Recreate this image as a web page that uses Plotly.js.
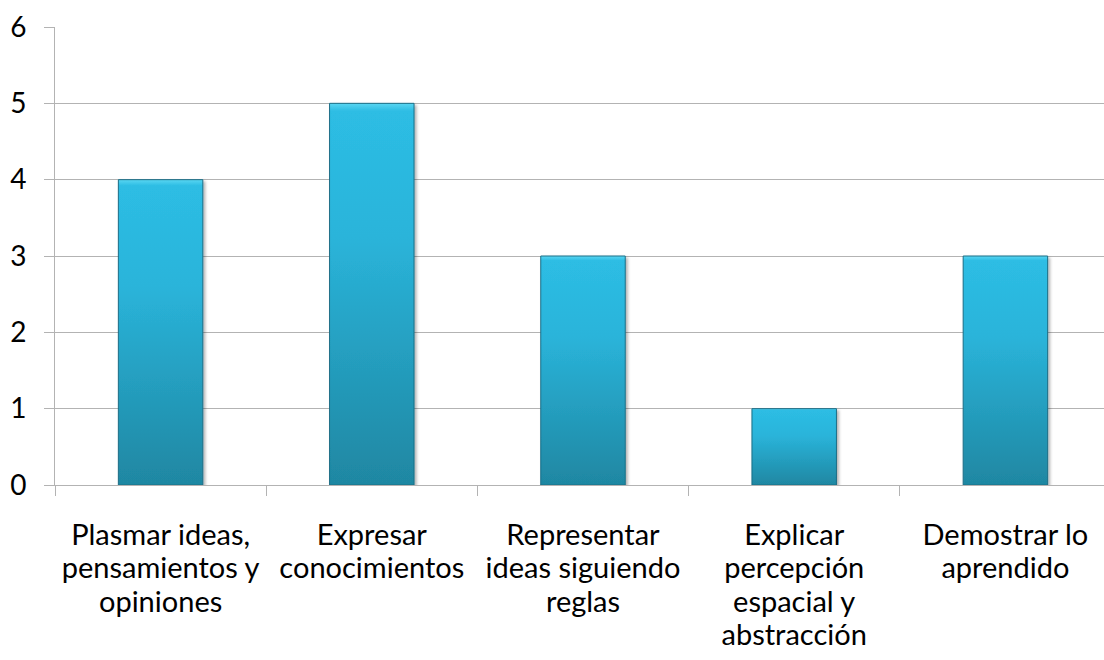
<!DOCTYPE html>
<html>
<head>
<meta charset="utf-8">
<script src="https://cdn.plot.ly/plotly-3.0.1.min.js"></script>
<style>
  html, body { margin: 0; padding: 0; background: #fff; overflow: hidden; }
  #chart { width: 1115px; height: 660px; }
</style>
</head>
<body>
<div id="chart"></div>
<script>
// Uses of drawing in class: how many times each purpose was mentioned
const categories = [
  "Plasmar ideas,<br>pensamientos y<br>opiniones",
  "Expresar<br>conocimientos",
  "Representar<br>ideas siguiendo<br>reglas",
  "Explicar<br>percepción<br>espacial y<br>abstracción",
  "Demostrar lo<br>aprendido"
];
const counts = [4, 5, 3, 1, 3];
const yTicks = [0, 1, 2, 3, 4, 5, 6];

const fontFamily = "Lato, 'Open Sans', sans-serif";
const gridGray = "#b3b3b3";
const labelLineSpacing = 1.15;   // em, tighter than the library default of 1.3

const trace = {
  type: "bar",
  x: categories,
  y: counts,
  marker: {
    color: "#26a6c9",
    line: { color: "#1b6e86", width: 1 }
  },
  hoverinfo: "none"
};

const layout = {
  width: 1115,
  height: 660,
  margin: { l: 55, r: 4, t: 27, b: 175 },
  paper_bgcolor: "#ffffff",
  plot_bgcolor: "#ffffff",
  showlegend: false,
  bargap: 0.6,
  font: { family: fontFamily, size: 29, color: "#000000" },
  xaxis: {
    type: "category",
    showline: true,
    linecolor: gridGray,
    linewidth: 1,
    ticks: "outside",
    tickson: "boundaries",
    ticklen: 10,
    tickcolor: gridGray,
    showgrid: false,
    tickfont: { family: fontFamily, size: 29, color: "#000000" },
    ticklabelstandoff: 24
  },
  yaxis: {
    range: [0, 6],
    tickvals: yTicks,
    ticktext: yTicks.map(String),
    showline: true,
    linecolor: gridGray,
    linewidth: 1,
    ticks: "outside",
    ticklen: 10,
    tickcolor: gridGray,
    showgrid: true,
    gridcolor: gridGray,
    gridwidth: 1,
    zeroline: false,
    tickfont: { family: fontFamily, size: 28, color: "#000000" },
    ticklabelstandoff: 12
  }
};

Plotly.newPlot("chart", [trace], layout, { staticPlot: true, displayModeBar: false }).then(gd => {
  const svgNS = "http://www.w3.org/2000/svg";

  // Tighten the line spacing of the multi-line category labels
  gd.querySelectorAll(".xtick text tspan.line").forEach(t => {
    const dy = parseFloat(t.getAttribute("dy")) || 0;
    t.setAttribute("dy", (dy / 1.3 * labelLineSpacing) + "em");
  });

  // Vertical gradient and soft shadow on the bars
  const svg = gd.querySelector(".main-svg");
  let defs = svg.querySelector("defs");
  if (!defs) { defs = document.createElementNS(svgNS, "defs"); svg.insertBefore(defs, svg.firstChild); }

  const grad = document.createElementNS(svgNS, "linearGradient");
  grad.setAttribute("id", "barFill");
  grad.setAttribute("x1", "0"); grad.setAttribute("y1", "0");
  grad.setAttribute("x2", "0"); grad.setAttribute("y2", "1");
  [["0", "#5ad6f2"], ["0.02", "#2dbde4"], ["0.35", "#2ab4da"], ["1", "#1f87a2"]].forEach(([o, c]) => {
    const s = document.createElementNS(svgNS, "stop");
    s.setAttribute("offset", o); s.setAttribute("stop-color", c);
    grad.appendChild(s);
  });
  defs.appendChild(grad);

  const filt = document.createElementNS(svgNS, "filter");
  filt.setAttribute("id", "barShadow");
  filt.setAttribute("x", "-10%"); filt.setAttribute("y", "-5%");
  filt.setAttribute("width", "125%"); filt.setAttribute("height", "115%");
  const ds = document.createElementNS(svgNS, "feDropShadow");
  ds.setAttribute("dx", "2"); ds.setAttribute("dy", "2");
  ds.setAttribute("stdDeviation", "1.5");
  ds.setAttribute("flood-color", "#000"); ds.setAttribute("flood-opacity", "0.3");
  filt.appendChild(ds);
  defs.appendChild(filt);

  gd.querySelectorAll(".bars .point path").forEach(p => {
    p.style.fill = "url(#barFill)";
    p.setAttribute("filter", "url(#barShadow)");
  });
});
</script>
</body>
</html>
